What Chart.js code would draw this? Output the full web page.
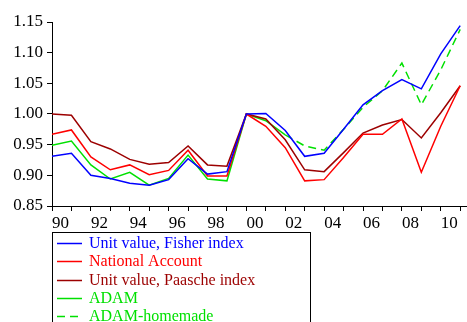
<!DOCTYPE html>
<html>
<head>
<meta charset="utf-8">
<script src="https://cdn.jsdelivr.net/npm/chart.js@4/dist/chart.umd.min.js"></script>
<style>
  html, body { margin: 0; padding: 0; background: #fff; }
  #wrap { width: 467px; height: 322px; }
</style>
</head>
<body>
<div id="wrap"><canvas id="c" width="467" height="322"></canvas></div>
<script>
// Price indices, 2000 = 1.00
const years = [1990, 1991, 1992, 1993, 1994, 1995, 1996, 1997, 1998, 1999, 2000,
               2001, 2002, 2003, 2004, 2005, 2006, 2007, 2008, 2009, 2010, 2011];

const fisher = [0.931, 0.936, 0.900, 0.895, 0.887, 0.884, 0.893, 0.927, 0.902, 0.906, 1.000,
                1.001, 0.973, 0.931, 0.936, 0.975, 1.015, 1.038, 1.056, 1.041, 1.098, 1.144];

const nationalAccount = [0.967, 0.974, 0.930, 0.909, 0.917, 0.901, 0.908, 0.941, 0.899, 0.899, 1.000,
                         0.980, 0.945, 0.891, 0.893, 0.929, 0.967, 0.967, 0.992, 0.905, 0.980, 1.046];

const paasche = [1.000, 0.998, 0.955, 0.943, 0.926, 0.918, 0.921, 0.948, 0.917, 0.915, 1.000,
                 0.992, 0.958, 0.909, 0.906, 0.937, 0.969, 0.982, 0.991, 0.961, 1.002, 1.046];

const adam = [0.949, 0.956, 0.917, 0.894, 0.905, 0.884, 0.895, 0.933, 0.894, 0.891, 1.000,
              0.989, 0.966, null, null, null, null, null, null, null, null, null];

const adamHomemade = [null, null, null, null, null, null, null, null, null, null, null,
                      null, 0.966, 0.948, 0.941, 0.975, 1.011, 1.038, 1.083, 1.015, 1.072, 1.138];

const seriesNames = ['Unit value, Fisher index', 'National Account', 'Unit value, Paasche index',
                     'ADAM', 'ADAM-homemade'];

const yTicks = [0.85, 0.90, 0.95, 1.00, 1.05, 1.10, 1.15];

const FONT = '"Liberation Serif", "Times New Roman", serif';

function points(values) {
  return years.map((y, i) => ({ x: y, y: values[i] }));
}

function series(label, values, color, dash) {
  return {
    label: label,
    data: points(values),
    borderColor: color,
    backgroundColor: color,
    borderWidth: 1.5,
    borderDash: dash || [],
    pointRadius: 0,
    pointHoverRadius: 0,
    tension: 0,
    spanGaps: false,
    fill: false
  };
}

// Boxed legend under the plot, one coloured line sample and label per series
const boxLegend = {
  id: 'boxLegend',
  afterDraw(chart) {
    const ctx = chart.ctx;
    ctx.save();
    ctx.strokeStyle = '#000';
    ctx.lineWidth = 1;
    ctx.setLineDash([]);
    ctx.strokeRect(52.5, 232.5, 258, 120);
    ctx.font = '16px ' + FONT;
    ctx.textBaseline = 'middle';
    ctx.textAlign = 'left';
    chart.data.datasets.forEach((ds, i) => {
      const y = Math.round(243 + i * 18.3) + 0.5;
      ctx.strokeStyle = ds.borderColor;
      ctx.lineWidth = 1.5;
      ctx.setLineDash(ds.borderDash || []);
      ctx.beginPath();
      ctx.moveTo(57, y);
      ctx.lineTo(82, y);
      ctx.stroke();
      ctx.setLineDash([]);
      ctx.fillStyle = ds.borderColor;
      ctx.fillText(ds.label, 89, y);
    });
    ctx.restore();
  }
};

new Chart(document.getElementById('c'), {
  type: 'line',
  data: {
    datasets: [
      series(seriesNames[0], fisher, '#0000ff'),
      series(seriesNames[1], nationalAccount, '#ff0000'),
      series(seriesNames[2], paasche, '#9c0000'),
      series(seriesNames[3], adam, '#00e000'),
      series(seriesNames[4], adamHomemade, '#00e000', [8, 5])
    ]
  },
  options: {
    responsive: false,
    animation: false,
    devicePixelRatio: 1,
    layout: { padding: { left: 0, right: 0, top: 22, bottom: 92 } },
    plugins: {
      legend: { display: false },
      tooltip: { enabled: false },
      title: { display: false }
    },
    scales: {
      x: {
        type: 'linear',
        min: years[0],
        max: 2011.35,
        afterBuildTicks(scale) {
          scale.ticks = years.map(v => ({ value: v }));
        },
        afterFit(scale) { scale.height = 24; },
        grid: { drawOnChartArea: false, drawTicks: true, tickLength: 5, color: '#000', lineWidth: 1 },
        border: { display: true, color: '#000', width: 1 },
        ticks: {
          autoSkip: false,
          maxRotation: 0,
          align: 'start',
          padding: 2,
          color: '#000',
          font: { family: FONT, size: 17 },
          callback(v) {
            return v % 2 === 0 ? String(v).slice(2) : '';
          }
        }
      },
      y: {
        type: 'linear',
        min: yTicks[0],
        max: yTicks[yTicks.length - 1],
        afterBuildTicks(scale) {
          scale.ticks = yTicks.map(v => ({ value: v }));
        },
        afterFit(scale) { scale.width = 52; },
        grid: { drawOnChartArea: false, drawTicks: true, tickLength: 5, color: '#000', lineWidth: 1 },
        border: { display: true, color: '#000', width: 1 },
        ticks: {
          padding: 4,
          color: '#000',
          font: { family: FONT, size: 17 },
          callback(v) { return Number(v).toFixed(2); }
        }
      }
    }
  },
  plugins: [boxLegend]
});
</script>
</body>
</html>
